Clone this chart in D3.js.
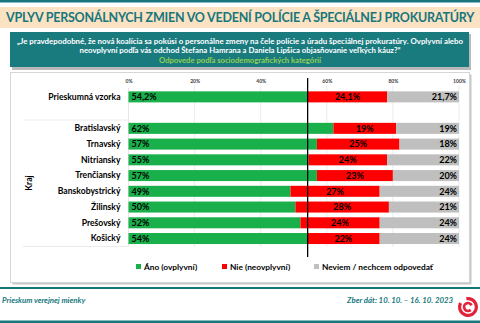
<!DOCTYPE html>
<html>
<head>
<meta charset="utf-8">
<script src="https://cdn.jsdelivr.net/npm/d3@7"></script>
<style>
  html, body { margin: 0; padding: 0; background: #fff; }
  svg { display: block; font-family: Lato, "Open Sans", sans-serif; }
</style>
</head>
<body>
<svg id="chart" width="480" height="323"></svg>
<script>
// Survey answers by region (percent)
const sampleLabel = "Prieskumná vzorka";
const regions = ["Bratislavský", "Trnavský", "Nitriansky", "Trenčiansky", "Banskobystrický", "Žilinský", "Prešovský", "Košický"];
const rows = [sampleLabel, ...regions];
const yesValues = [54.2, 62, 57, 55, 57, 49, 50, 52, 54];
const noValues = [24.1, 19, 25, 24, 23, 27, 28, 24, 22];
const dontKnowValues = [21.7, 19, 18, 22, 20, 24, 21, 24, 24];
const seriesKeys = ["yes", "no", "dk"];
const seriesNames = ["Áno (ovplyvní)", "Nie (neovplyvní)", "Neviem / nechcem odpovedať"];
const seriesColors = ["#19b04b", "#ff0000", "#bfbfbf"];
const tickValues = [0, 0.2, 0.4, 0.6, 0.8, 1];

const teal = "#17777d";
const svg = d3.select("#chart");

// header
svg.append("rect").attr("x", 0).attr("y", 0).attr("width", 480).attr("height", 2.5).attr("fill", teal);
svg.append("rect").attr("x", 0).attr("y", 7).attr("width", 480).attr("height", 21).attr("fill", "#fbe2c2");
const title = svg.append("text").attr("x", 240).attr("y", 21.8).attr("text-anchor", "middle")
  .attr("font-size", 12.5).attr("font-weight", 700).attr("fill", teal)
  .text("VPLYV PERSONÁLNYCH ZMIEN VO VEDENÍ POLÍCIE A ŠPECIÁLNEJ PROKURATÚRY");
// keep the title inside the band: squeeze letter spacing if it runs wide
const tw = title.node().getComputedTextLength();
if (tw > 468) {
  const chars = title.text().length;
  title.attr("letter-spacing", ((468 - tw) / chars).toFixed(3));
}

// question box
svg.append("rect").attr("x", 12).attr("y", 34).attr("width", 459).attr("height", 36).attr("fill", "#b9b9b9");
svg.append("rect").attr("x", 10).attr("y", 32).attr("width", 459).attr("height", 35).attr("fill", "#1a7b7f");
const q = svg.append("g").attr("font-size", 7.2).attr("font-weight", 700).attr("text-anchor", "middle");
q.append("text").attr("x", 240).attr("y", 43.5).attr("fill", "#fff")
  .attr("textLength", 446).attr("lengthAdjust", "spacingAndGlyphs")
  .text("„Je pravdepodobné, že nová koalícia sa pokúsi o personálne zmeny na čele polície a úradu špeciálnej prokuratúry. Ovplyvní alebo");
q.append("text").attr("x", 240).attr("y", 53).attr("fill", "#fff")
  .attr("textLength", 321).attr("lengthAdjust", "spacingAndGlyphs")
  .text("neovplyvní podľa vás odchod Štefana Hamrana a Daniela Lipšica objasňovanie veľkých káuz?“");
q.append("text").attr("x", 240).attr("y", 63).attr("fill", "#92d050")
  .attr("textLength", 162).attr("lengthAdjust", "spacingAndGlyphs")
  .text("Odpovede podľa sociodemografických kategórií");

// chart panel
svg.append("rect").attr("x", 12.5).attr("y", 74.5).attr("width", 459).attr("height", 210).attr("fill", "#c8c8c8");
svg.append("rect").attr("x", 10.5).attr("y", 72.5).attr("width", 459).attr("height", 210)
  .attr("fill", "#fff").attr("stroke", "#d6d6d6").attr("stroke-width", 1);

// scales
const gapKey = " ";
const x = d3.scaleLinear().domain([0, 1]).range([128.5, 459]);
const y = d3.scaleBand().domain([sampleLabel, gapKey, ...regions])
  .range([89, 246.4]).paddingInner(0.3).paddingOuter(0.15);

// grid
const grid = svg.append("g");
grid.selectAll("line").data(tickValues.slice(1)).join("line")
  .attr("x1", d => x(d)).attr("x2", d => x(d))
  .attr("y1", 85).attr("y2", 247).attr("stroke", "#e6e6e6").attr("stroke-width", 0.8);

// top axis tick labels
const xAxis = d3.axisTop(x).tickValues(tickValues).tickFormat(d3.format(".0%")).tickSize(0).tickPadding(0);
const axG = svg.append("g").attr("transform", "translate(0,83)").call(xAxis);
axG.select(".domain").remove();
axG.selectAll("text").attr("font-size", 5).attr("font-weight", 700).attr("fill", "#404040")
  .attr("font-family", "Lato, sans-serif");

// category axis line and group separators
svg.append("line").attr("x1", x(0)).attr("x2", x(0)).attr("y1", 88).attr("y2", 246.5)
  .attr("stroke", "#e0e0e0").attr("stroke-width", 0.8);
[120, 246.5].forEach(v => svg.append("line").attr("x1", 23).attr("x2", x(0)).attr("y1", v).attr("y2", v)
  .attr("stroke", "#e6e6e6").attr("stroke-width", 0.8));

// row labels
const yAxis = d3.axisLeft(y).tickValues(rows).tickSize(0).tickPadding(8);
const yG = svg.append("g").attr("transform", `translate(${x(0)},0)`).call(yAxis);
yG.select(".domain").remove();
yG.selectAll("text").attr("font-size", 8.6).attr("font-weight", 700).attr("fill", "#000")
  .attr("font-family", "Lato, sans-serif");
svg.append("text").attr("transform", "translate(32,183) rotate(-90)").attr("text-anchor", "middle")
  .attr("font-size", 8.6).attr("font-weight", 700).text("Kraj");

// 100 % stacked bars
const table = rows.map((r, i) => ({ row: r, yes: yesValues[i], no: noValues[i], dk: dontKnowValues[i] }));
const stacked = d3.stack().keys(seriesKeys).offset(d3.stackOffsetExpand)(table);
const fmt = v => (Number.isInteger(v) ? v : String(v).replace(".", ",")) + "%";

stacked.forEach((layer, li) => {
  const g = svg.append("g");
  g.selectAll("rect").data(layer).join("rect")
    .attr("x", d => x(d[0])).attr("width", d => x(d[1]) - x(d[0]))
    .attr("y", d => y(d.data.row)).attr("height", y.bandwidth())
    .attr("fill", seriesColors[li]);
  g.selectAll("text").data(layer).join("text")
    .attr("x", d => li === 0 ? x(d[0]) + 3 : li === 1 ? (x(d[0]) + x(d[1])) / 2 : x(d[1]) - 2)
    .attr("y", d => y(d.data.row) + y.bandwidth() / 2 + 3.2)
    .attr("text-anchor", li === 0 ? "start" : li === 1 ? "middle" : "end")
    .attr("font-size", 9).attr("font-weight", 700).attr("fill", "#000")
    .text(d => fmt(d.data[layer.key]));
});

// reference line at the whole-sample share
svg.append("line").attr("x1", x(yesValues[0] / 100)).attr("x2", x(yesValues[0] / 100))
  .attr("y1", 78).attr("y2", 257).attr("stroke", "#000").attr("stroke-width", 1.3);

// legend
const legendX = [136, 222, 314];
const lg = svg.append("g");
seriesNames.forEach((name, i) => {
  lg.append("rect").attr("x", legendX[i]).attr("y", 264).attr("width", 5).attr("height", 5).attr("fill", seriesColors[i]);
  lg.append("text").attr("x", legendX[i] + 8).attr("y", 269.5).attr("font-size", 8.3).attr("font-weight", 700)
    .attr("fill", "#000").text(name);
});

// footer
svg.append("rect").attr("x", 0).attr("y", 287).attr("width", 480).attr("height", 2).attr("fill", teal);
svg.append("rect").attr("x", 0).attr("y", 320.5).attr("width", 480).attr("height", 2.5).attr("fill", teal);
svg.append("text").attr("x", 2).attr("y", 303).attr("font-size", 7.8).attr("font-weight", 700)
  .attr("font-style", "italic").attr("fill", teal).text("Prieskum verejnej mienky");
svg.append("text").attr("x", 453).attr("y", 303).attr("text-anchor", "end").attr("font-size", 7.8)
  .attr("font-weight", 700).attr("font-style", "italic").attr("fill", teal).text("Zber dát: 10. 10. – 16. 10. 2023");

// logo swirl
const logo = svg.append("g").attr("transform", "translate(468,307)");
const arc = d3.arc();
logo.append("path").attr("d", arc({ innerRadius: 6.8, outerRadius: 10, startAngle: -0.2, endAngle: 5.2 }))
  .attr("fill", "#e2243b");
logo.append("path").attr("d", arc({ innerRadius: 2.5, outerRadius: 5.3, startAngle: 2.4, endAngle: 7.4 }))
  .attr("fill", "#e2243b");
</script>
</body>
</html>
